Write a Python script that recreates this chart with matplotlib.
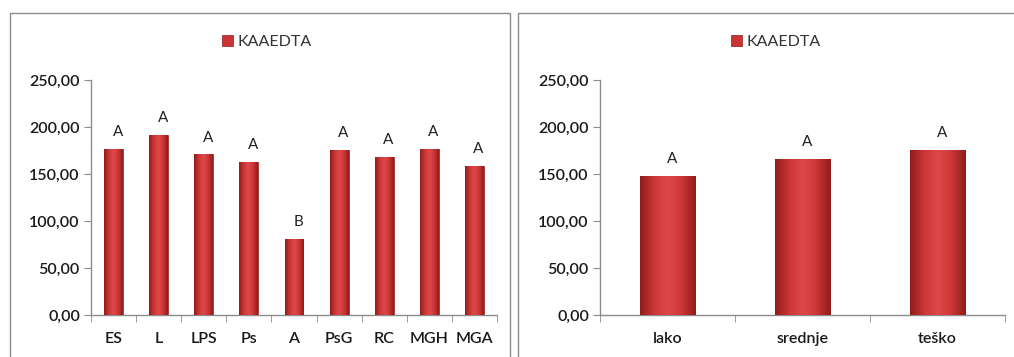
import numpy as np
import matplotlib
matplotlib.use("Agg")
import matplotlib.pyplot as plt
from matplotlib.patches import Rectangle
from matplotlib.colors import LinearSegmentedColormap

plt.rcParams['font.family'] = ['Lato', 'DejaVu Sans']

# Data
left_categories = ["ES", "L", "LPS", "Ps", "A", "PsG", "RC", "MGH", "MGA"]
left_values = [177, 191.5, 171, 163, 81, 175.5, 168.5, 177, 159]
left_letters = ["A", "A", "A", "A", "B", "A", "A", "A", "A"]

right_categories = ["lako", "srednje", "teško"]
right_values = [148, 166, 175.5]
right_letters = ["A", "A", "A"]

series_name = "KAAEDTA"
yticks = [0, 50, 100, 150, 200, 250]
ytick_labels = ["0,00", "50,00", "100,00", "150,00", "200,00", "250,00"]

W, H = 1014, 357
fig = plt.figure(figsize=(W / 100, H / 100), dpi=100)
fig.patch.set_facecolor("white")

# Panel frames
frame_col = "#8c8c8c"
fig.add_artist(Rectangle((10 / W, -0.05), (510 - 10) / W, 1.05 - 13 / H,
                         transform=fig.transFigure, fill=False, edgecolor=frame_col, lw=1.0))
fig.add_artist(Rectangle((518 / W, -0.05), (1020 - 518) / W, 1.05 - 13 / H,
                         transform=fig.transFigure, fill=False, edgecolor=frame_col, lw=1.0))

cmap = LinearSegmentedColormap.from_list("bar", ["#901c1c", "#cc3636", "#de4848", "#cc3636", "#901c1c"])
grad = np.linspace(0, 1, 64).reshape(1, -1)

def draw_panel(ax, cats, vals, letters, width):
    x = np.arange(len(cats))
    bars = ax.bar(x, vals, width=width, color="#cc3434", edgecolor="#8e1c1c", lw=0.5,
                  label=series_name, zorder=2)
    for b in bars:
        x0, y0 = b.get_x(), b.get_y()
        im = ax.imshow(grad, cmap=cmap, aspect="auto",
                       extent=(x0, x0 + b.get_width(), y0, y0 + b.get_height()),
                       zorder=3, interpolation="bilinear")
        im.set_clip_path(b)
    for xi, v, lt in zip(x, vals, letters):
        ax.annotate(lt, (xi, v), xytext=(3, 7), textcoords="offset points",
                    ha="center", va="bottom", fontsize=11, color="#222222")
    ax.set_xlim(-0.5, len(cats) - 0.5)
    ax.set_ylim(0, 250)
    ax.set_yticks(yticks)
    ax.set_yticklabels(ytick_labels, fontweight="semibold")
    ax.set_xticks(x)
    ax.set_xticklabels(cats, fontweight="semibold")
    ax.set_xticks(np.arange(len(cats) + 1) - 0.5, minor=True)
    ax.tick_params(axis="x", which="major", length=0, pad=12, labelsize=11.5, labelcolor="#1a1a1a")
    ax.tick_params(axis="x", which="minor", length=5, color=frame_col, direction="out")
    ax.tick_params(axis="y", length=5, color=frame_col, labelsize=11.5, labelcolor="#1a1a1a", pad=3)
    for s in ["top", "right"]:
        ax.spines[s].set_visible(False)
    for s in ["left", "bottom"]:
        ax.spines[s].set_color(frame_col)
        ax.spines[s].set_linewidth(1.0)
    ax.set_facecolor("none")
    return bars

ax1 = fig.add_axes([91 / W, 1 - 315 / H, (497 - 91) / W, (315 - 80) / H])
b1 = draw_panel(ax1, left_categories, left_values, left_letters, 0.42)
ax2 = fig.add_axes([600 / W, 1 - 315 / H, (1005 - 600) / W, (315 - 80) / H])
b2 = draw_panel(ax2, right_categories, right_values, right_letters, 0.41)

for ax, cx in [(ax1, 267), (ax2, 776)]:
    ax.legend(loc="center", bbox_to_anchor=(cx / W, 1 - 42 / H), bbox_transform=fig.transFigure,
              frameon=False, fontsize=11.5, handlelength=0.65, handleheight=0.65,
              handletextpad=0.3, labelcolor="#333333")

fig.savefig("out.png", dpi=100, facecolor="white")
